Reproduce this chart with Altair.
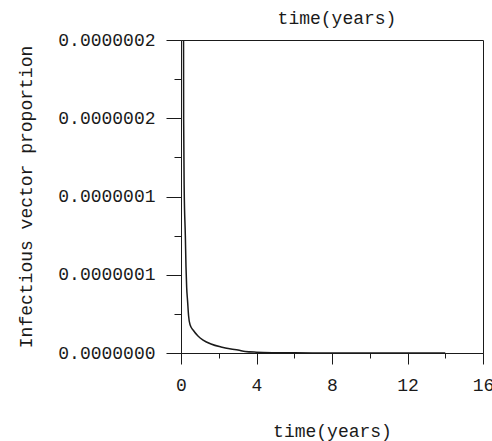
import altair as alt
import pandas as pd

# Infectious vector proportion over time (model output)
t_years = [0.12, 0.14, 0.17, 0.23, 0.265, 0.30, 0.35, 0.40, 0.48, 0.64, 0.90,
           1.17, 1.59, 2.12, 2.65, 3.02, 3.4, 4.0, 5.0, 6.0, 8.0, 10.0, 12.0, 14.0]
infectious = [3.2e-7, 1.5e-7, 1.04e-7, 7.5e-8, 5.5e-8, 4.2e-8, 3.3e-8, 2.4e-8,
              1.8e-8, 1.47e-8, 1.09e-8, 8.3e-9, 5.75e-9, 3.83e-9, 2.56e-9,
              1.9e-9, 1.0e-9, 5e-10, 2e-10, 1e-10, 5e-11, 3e-11, 1.5e-11, 8e-12]

# Axis ticks (major + minor) and the printed labels of the major ticks
x_ticks = [0, 2, 4, 6, 8, 10, 12, 14, 16]
x_labels = ["0", "", "4", "", "8", "", "12", "", "16"]
y_ticks = [0, 2.5e-8, 5e-8, 7.5e-8, 1e-7, 1.25e-7, 1.5e-7, 1.75e-7, 2e-7]
y_labels = ["0.0000000", "", "0.0000001", "", "0.0000001", "", "0.0000002", "", "0.0000002"]

df = pd.DataFrame({"t": t_years, "v": infectious})

FONT = "Liberation Mono"
INK = "#1a1a1a"

# labels are looked up by tick index; major ticks are the labelled ones
x_idx = "round(datum.value / 2)"
y_idx = "round(datum.value / 2.5e-8)"
x_expr = "[" + ",".join("'%s'" % s for s in x_labels) + "][%s]" % x_idx
y_expr = "[" + ",".join("'%s'" % s for s in y_labels) + "][%s]" % y_idx
x_major = "(%s) %% 2 === 0" % x_idx
y_major = "(%s) %% 2 === 0" % y_idx

chart = alt.Chart(df).mark_line(
    color=INK, strokeWidth=1.5, clip=True, interpolate="monotone"
).encode(
    x=alt.X(
        "t:Q",
        scale=alt.Scale(domain=[0, 16], nice=False, zero=False),
        axis=alt.Axis(
            title="time(years)",
            values=x_ticks,
            labelExpr=x_expr,
            labelFlush=False,
            labelOverlap=False,
            tickSize={"condition": {"test": x_major, "value": 11}, "value": 5},
            labelPadding=12,
            titlePadding=28,
            grid=False,
        ),
    ),
    y=alt.Y(
        "v:Q",
        scale=alt.Scale(domain=[0, 2e-7], nice=False, zero=False),
        axis=alt.Axis(
            title="Infectious vector proportion",
            values=y_ticks,
            labelExpr=y_expr,
            labelFlush=False,
            labelOverlap=False,
            tickSize={"condition": {"test": y_major, "value": 15}, "value": 7},
            labelPadding=11,
            titlePadding=22,
            grid=False,
        ),
    ),
).properties(
    width=302,
    height=313,
    title=alt.TitleParams("time(years)", dx=5, offset=3),
    autosize=alt.AutoSizeParams(type="none"),
    padding={"left": 181, "top": 40, "right": 9, "bottom": 88},
    background="white",
).configure_view(
    stroke=INK, strokeWidth=1
).configure_axis(
    domainColor=INK,
    tickColor=INK,
    labelColor=INK,
    titleColor=INK,
    labelFont=FONT,
    titleFont=FONT,
    labelFontSize=18,
    titleFontSize=18,
    titleFontWeight="normal",
    domainWidth=1,
    tickWidth=1,
).configure_title(
    font=FONT, fontSize=18, fontWeight="normal", color=INK, anchor="middle"
)

chart.save("out.html", embed_options={"renderer": "svg", "actions": False})
